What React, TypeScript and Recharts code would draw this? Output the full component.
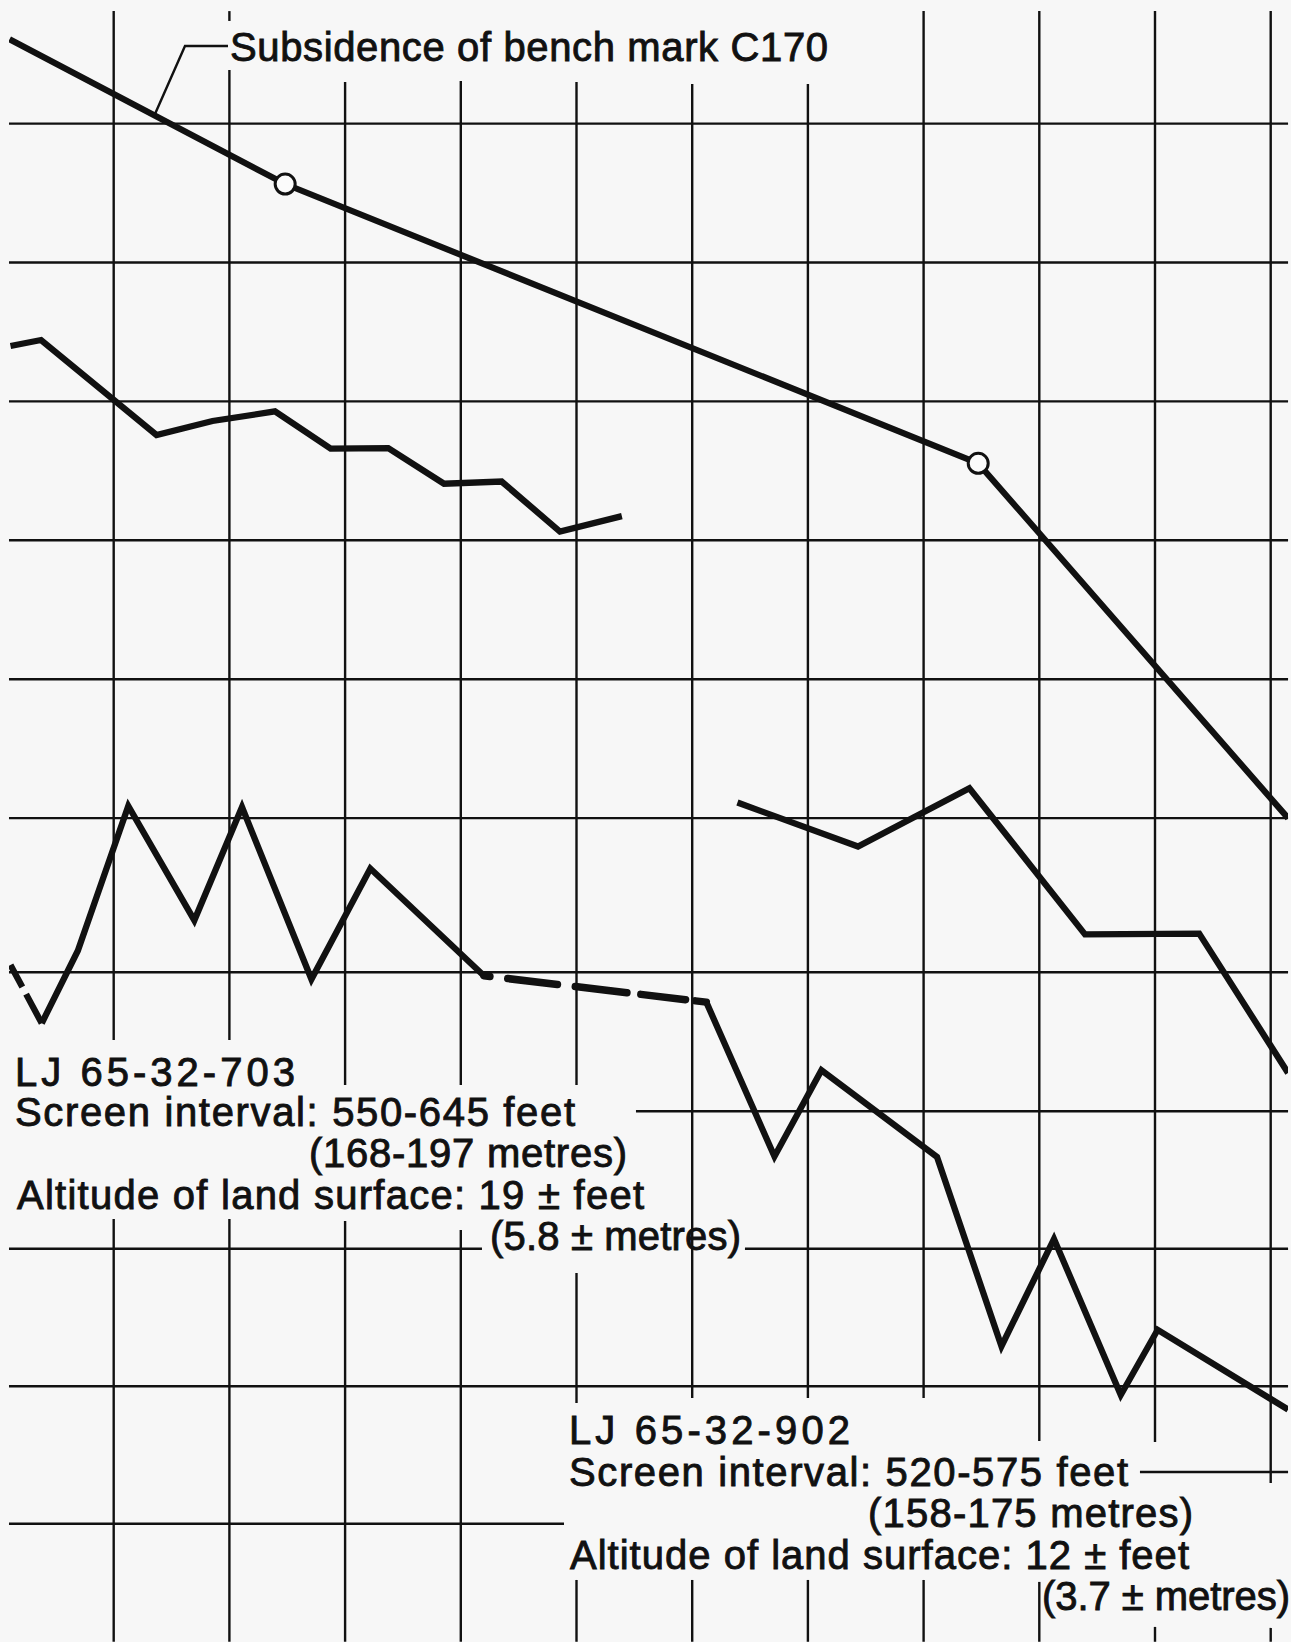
import React from 'react';
import { LineChart, Line, XAxis, YAxis, ReferenceLine } from 'recharts';

type Pt = { x: number; y: number };

// Grid positions (x: one column per period, y: one row per depth step; reversed axis)
const gridColumns = [1, 2, 3, 4, 5, 6, 7, 8, 9, 10, 11];
const gridRows = [1, 2, 3, 4, 5, 6, 7.11, 8.11, 9.1, 10.09, 11.08];

// Subsidence of bench mark C170
const benchMarkC170: Pt[] = [
  { x: 0.1, y: 0.393 },
  { x: 2.482, y: 1.435 },
  { x: 8.472, y: 3.446 },
  { x: 11.15, y: 6.0 },
];
const benchMarkSurveys: Pt[] = [
  { x: 2.482, y: 1.435 },
  { x: 8.472, y: 3.446 },
];

// Upper hydrograph, two pieces
const upperRecordA: Pt[] = [
  { x: 0.108, y: 2.601 },
  { x: 0.372, y: 2.558 },
  { x: 1.37, y: 3.242 },
  { x: 1.854, y: 3.141 },
  { x: 2.394, y: 3.072 },
  { x: 2.875, y: 3.34 },
  { x: 3.373, y: 3.337 },
  { x: 3.855, y: 3.593 },
  { x: 4.353, y: 3.577 },
  { x: 4.857, y: 3.937 },
  { x: 5.392, y: 3.826 },
];
const upperRecordB: Pt[] = [
  { x: 6.391, y: 5.888 },
  { x: 7.433, y: 6.205 },
  { x: 8.396, y: 5.785 },
  { x: 9.395, y: 6.837 },
  { x: 10.382, y: 6.832 },
  { x: 11.15, y: 7.835 },
];

// LJ 65-32-703
const lj703Lead: Pt[] = [
  { x: 0.108, y: 7.058 },
  { x: 0.378, y: 7.477 },
];
const lj703: Pt[] = [
  { x: 0.378, y: 7.477 },
  { x: 0.69, y: 6.955 },
  { x: 1.126, y: 5.913 },
  { x: 1.697, y: 6.736 },
  { x: 2.109, y: 5.921 },
  { x: 2.709, y: 7.16 },
  { x: 3.218, y: 6.363 },
  { x: 4.2, y: 7.135 },
];
// estimated link between the two wells
const wellLink: Pt[] = [
  { x: 4.2, y: 7.135 },
  { x: 6.122, y: 7.325 },
];
// LJ 65-32-902
const lj902: Pt[] = [
  { x: 6.122, y: 7.325 },
  { x: 6.711, y: 8.436 },
  { x: 7.117, y: 7.815 },
  { x: 8.116, y: 8.44 },
  { x: 8.673, y: 9.802 },
  { x: 9.127, y: 9.03 },
  { x: 9.704, y: 10.153 },
  { x: 10.023, y: 9.684 },
  { x: 11.15, y: 10.258 },
];

// ---- layout (visible pieces of the graph-paper grid, around the pasted labels) ----
const X_DOMAIN: [number, number] = [0.0951, 11.1495];
const Y_DOMAIN: [number, number] = [0.1893, 11.9316];
const colSpans: number[][][] = [
  [[0.19, 7.598], [8.886, 11.93]],
  [[0.19, 0.261], [0.614, 7.598], [8.886, 11.93]],
  [[0.7, 7.922], [8.9, 11.93]],
  [[0.693, 7.922], [8.965, 11.93]],
  [[0.7, 7.922], [9.275, 10.211], [11.485, 11.93]],
  [[0.715, 10.175], [11.485, 11.93]],
  [[0.715, 10.175], [11.485, 11.93]],
  [[0.19, 10.175], [11.485, 11.93]],
  [[0.19, 10.484], [11.499, 11.93]],
  [[0.19, 10.491], [11.823, 11.93]],
  [[0.19, 10.787], [11.83, 11.93]],
];
const rowSpans: number[][][] = [
  [[0.095, 11.15]],
  [[0.095, 11.15]],
  [[0.095, 11.15]],
  [[0.095, 11.15]],
  [[0.095, 11.15]],
  [[0.095, 11.15]],
  [[0.095, 11.15]],
  [[5.514, 11.15]],
  [[0.095, 4.183], [6.456, 11.15]],
  [[0.095, 11.15]],
  [[0.095, 4.892]],
];
const extraRows: { y: number; spans: number[][] }[] = [{ y: 10.708, spans: [[9.87, 11.15]] }];

const INK = '#111111';
const PAPER = '#f7f7f7';
const FONT = "'Liberation Sans', Arial, sans-serif";
const GRID_W = 2.4;
const SERIES_W = 6.3;

const labels: { t: string; x: number; y: number; w: number }[] = [
  { t: 'Subsidence of bench mark C170', x: 230, y: 60.5, w: 598 },
  { t: 'LJ 65-32-703', x: 15, y: 1086, w: 280 },
  { t: 'Screen interval: 550-645 feet', x: 15, y: 1126, w: 560 },
  { t: '(168-197 metres)', x: 309, y: 1167, w: 318 },
  { t: 'Altitude of land surface: 19 \u00b1 feet', x: 17, y: 1209, w: 627 },
  { t: '(5.8 \u00b1 metres)', x: 490, y: 1250, w: 251 },
  { t: 'LJ 65-32-902', x: 569, y: 1444, w: 281 },
  { t: 'Screen interval: 520-575 feet', x: 569, y: 1486, w: 559 },
  { t: '(158-175 metres)', x: 868, y: 1527, w: 325 },
  { t: 'Altitude of land surface: 12 \u00b1 feet', x: 570, y: 1569, w: 619 },
  { t: '(3.7 \u00b1 metres)', x: 1042, y: 1610, w: 248 },
];

export default function App() {
  const gridLines: React.ReactNode[] = [];
  gridColumns.forEach((c, i) =>
    colSpans[i].forEach(([a, b], j) =>
      gridLines.push(
        <ReferenceLine
          key={`c${i}-${j}`}
          segment={[{ x: c, y: a }, { x: c, y: b }]}
          stroke={INK}
          strokeWidth={GRID_W}
          ifOverflow="visible"
        />
      )
    )
  );
  gridRows.forEach((r, i) =>
    rowSpans[i].forEach(([a, b], j) =>
      gridLines.push(
        <ReferenceLine
          key={`r${i}-${j}`}
          segment={[{ x: a, y: r }, { x: b, y: r }]}
          stroke={INK}
          strokeWidth={GRID_W}
          ifOverflow="visible"
        />
      )
    )
  );
  extraRows.forEach((er, i) =>
    er.spans.forEach(([a, b], j) =>
      gridLines.push(
        <ReferenceLine
          key={`e${i}-${j}`}
          segment={[{ x: a, y: er.y }, { x: b, y: er.y }]}
          stroke={INK}
          strokeWidth={GRID_W}
          ifOverflow="visible"
        />
      )
    )
  );

  return (
    <div style={{ position: 'absolute', left: 0, top: 0, width: 1291, height: 1642, background: PAPER, overflow: 'hidden' }}>
      <style>{'html,body{margin:0;padding:0;overflow:hidden;}'}</style>
      <LineChart width={1291} height={1642} margin={{ top: 11, right: 3, bottom: 0, left: 9 }}>
        <XAxis type="number" dataKey="x" domain={X_DOMAIN} allowDataOverflow hide ticks={gridColumns} />
        <YAxis type="number" dataKey="y" domain={Y_DOMAIN} allowDataOverflow reversed hide ticks={gridRows} />
        {gridLines}
        <Line data={benchMarkC170} dataKey="y" type="linear" stroke={INK} strokeWidth={6.2} dot={false} isAnimationActive={false} />
        <Line data={upperRecordA} dataKey="y" type="linear" stroke={INK} strokeWidth={SERIES_W} dot={false} isAnimationActive={false} />
        <Line data={upperRecordB} dataKey="y" type="linear" stroke={INK} strokeWidth={SERIES_W} dot={false} isAnimationActive={false} />
        <Line data={lj703Lead} dataKey="y" type="linear" stroke={INK} strokeWidth={SERIES_W} strokeDasharray="25 8 200" dot={false} isAnimationActive={false} />
        <Line data={lj703} dataKey="y" type="linear" stroke={INK} strokeWidth={SERIES_W} dot={false} isAnimationActive={false} />
        <Line data={wellLink} dataKey="y" type="linear" stroke={INK} strokeWidth={7.5} strokeLinecap="round" strokeDasharray="6 18 50 18 52 14 45 10 40" dot={false} isAnimationActive={false} />
        <Line data={lj902} dataKey="y" type="linear" stroke={INK} strokeWidth={SERIES_W} dot={false} isAnimationActive={false} />
        <Line
          data={benchMarkSurveys}
          dataKey="y"
          type="linear"
          stroke="none"
          dot={{ r: 10, fill: '#fbfbfb', stroke: INK, strokeWidth: 3 }}
          isAnimationActive={false}
        />
      </LineChart>
      <svg width={1291} height={1642} style={{ position: 'absolute', left: 0, top: 0, pointerEvents: 'none' }}>
        <polyline points="228,46 185,46 155,114" fill="none" stroke={INK} strokeWidth={2.4} />
        {labels.map((l, i) => (
          <text
            key={i}
            x={l.x}
            y={l.y}
            textLength={l.w}
            lengthAdjust="spacing"
            fontFamily={FONT}
            fontSize={40}
            fill={INK}
            stroke={INK}
            strokeWidth={0.9}
          >
            {l.t}
          </text>
        ))}
      </svg>
    </div>
  );
}
